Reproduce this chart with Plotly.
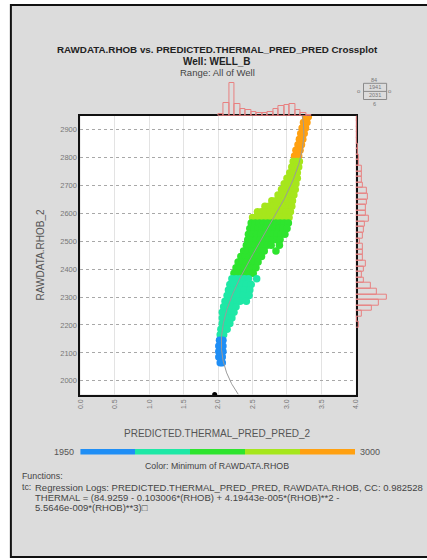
import numpy as np
import plotly.graph_objects as go

W, H = 427, 560

# ---- crossplot samples: RAWDATA.RHOB_2 level -> PREDICTED.THERMAL_PRED_PRED_2 values
rhob_levels = [
    2945, 2925, 2905, 2885, 2865, 2845, 2825, 2805,
    2785, 2765, 2745, 2725, 2705, 2685, 2665, 2645, 2625, 2605, 2585,
    2565, 2545, 2525, 2505, 2485, 2465, 2445, 2425, 2405, 2385,
    2365, 2345, 2325, 2305, 2285, 2265, 2245, 2225, 2205, 2185, 2165,
    2145, 2125, 2105, 2085, 2065,
]
thermal_by_level = [
    [3.27, 3.31], [3.24, 3.29], [3.22, 3.27], [3.20, 3.25],
    [3.18, 3.23], [3.16, 3.21], [3.13, 3.19], [3.11, 3.17],
    [3.09, 3.14, 3.18], [3.07, 3.12, 3.17], [3.04, 3.10, 3.15],
    [3.00, 3.06, 3.11, 3.15], [2.96, 3.02, 3.08, 3.13],
    [2.92, 2.98, 3.04, 3.08, 3.12], [2.87, 2.93, 2.99, 3.05, 3.10],
    [2.78, 2.84, 2.90, 2.96, 3.02, 3.08],
    [2.68, 2.74, 2.80, 2.86, 2.92, 2.98, 3.03, 3.07],
    [2.57, 2.63, 2.69, 2.75, 2.81, 2.87, 2.93, 2.99, 3.05],
    [2.50, 2.56, 2.62, 2.68, 2.74, 2.80, 2.86, 2.92, 2.98, 3.03],
    [2.48, 2.54, 2.60, 2.66, 2.72, 2.78, 2.84, 2.90, 2.96, 3.02],
    [2.46, 2.52, 2.58, 2.64, 2.70, 2.76, 2.82, 2.88, 2.94, 3.00],
    [2.44, 2.50, 2.56, 2.62, 2.68, 2.74, 2.80, 2.86, 2.92, 2.97],
    [2.43, 2.49, 2.55, 2.61, 2.67, 2.73, 2.79, 2.85, 2.90],
    [2.41, 2.47, 2.53, 2.59, 2.65, 2.71, 2.77, 2.89],
    [2.37, 2.43, 2.49, 2.55, 2.61, 2.67, 2.84],
    [2.33, 2.39, 2.45, 2.51, 2.57, 2.63],
    [2.29, 2.35, 2.41, 2.47, 2.53, 2.58],
    [2.26, 2.32, 2.38, 2.44, 2.50, 2.55],
    [2.23, 2.29, 2.35, 2.41, 2.47, 2.51],
    [2.20, 2.26, 2.32, 2.38, 2.44, 2.56],
    [2.17, 2.23, 2.29, 2.35, 2.41, 2.48],
    [2.15, 2.21, 2.27, 2.33, 2.38, 2.46],
    [2.13, 2.19, 2.25, 2.31, 2.36, 2.45],
    [2.10, 2.16, 2.22, 2.28, 2.32, 2.41],
    [2.08, 2.14, 2.20, 2.26],
    [2.06, 2.12, 2.18, 2.23],
    [2.06, 2.12, 2.18, 2.20],
    [2.06, 2.12, 2.17],
    [2.04, 2.09, 2.13],
    [2.03, 2.08],
    [2.02, 2.07], [2.01, 2.07], [2.01, 2.07], [2.01, 2.06], [2.03, 2.06],
]

# ---- colour classes (Minimum of RAWDATA.RHOB)
color_edges = [1950, 2160, 2370, 2580, 2790, 3000]
class_colors = ["#1f8ef5", "#1ee8a6", "#2ee42e", "#a6e61c", "#ffa010"]

# ---- marginal histograms
thermal_bin_starts = [2.00, 2.08, 2.16, 2.24, 2.32, 2.40, 2.48, 2.56, 2.64,
                      2.72, 2.80, 2.88, 2.96, 3.04, 3.12, 3.20, 3.28]
thermal_counts = [2, 13, 33, 12, 7, 6, 4, 3, 3, 4, 7, 10, 11, 12, 6, 3, 1]
thermal_bin_width = 0.08

rhob_bin_starts = [2190, 2210, 2230, 2250, 2270, 2290, 2310, 2330, 2350, 2370,
                   2390, 2410, 2430, 2450, 2470, 2490, 2510, 2530, 2550, 2570,
                   2590, 2610, 2630, 2650, 2670, 2690, 2710, 2730, 2750, 2770,
                   2790, 2810, 2830, 2850, 2870, 2890, 2910, 2930]
rhob_counts = [3, 1, 6, 16, 23, 32, 21, 15, 8, 6,
               8, 10, 7, 7, 7, 4, 7, 8, 9, 13,
               10, 10, 11, 12, 11, 7, 6, 6, 6, 3,
               3, 2, 2, 1, 1, 1, 1, 1]
rhob_bin_width = 20

# ---- regression function: THERMAL = c0 + c1*RHOB + c2*RHOB**2 + c3*RHOB**3
reg_coeffs = [84.9259, -0.103006, 4.19443e-005, -5.5646e-009]

x_ticks = [0.0, 0.5, 1.0, 1.5, 2.0, 2.5, 3.0, 3.5, 4.0]
y_ticks = [2000, 2100, 2200, 2300, 2400, 2500, 2600, 2700, 2800, 2900]
x_range = [0, 4]
y_range = [1951, 2949]

# ---- point arrays
pt_rhob = []
pt_thermal = []
for r, xs in zip(rhob_levels, thermal_by_level):
    for xv in xs:
        pt_rhob.append(r)
        pt_thermal.append(xv)
cls = np.clip(np.digitize(pt_rhob, color_edges) - 1, 0, len(class_colors) - 1)
pt_colors = [class_colors[i] for i in cls]

curve_rhob = np.linspace(y_range[0], y_range[1], 300)
curve_thermal = sum(c * curve_rhob ** k for k, c in enumerate(reg_coeffs))


def fx(px):
    return px / W


def fy(py):
    return 1 - py / H


# plot-area pixel geometry
PL, PR, PT, PB = 77.7, 357.7, 115.7, 394.5
FONT = "Liberation Sans, Arial, sans-serif"

fig = go.Figure()

# crossplot points
fig.add_trace(go.Scatter(
    x=pt_thermal, y=pt_rhob, mode="markers",
    marker=dict(size=7.5, color=pt_colors, line=dict(width=0)),
    xaxis="x", yaxis="y", hoverinfo="skip"))

# regression curve
fig.add_trace(go.Scatter(
    x=curve_thermal, y=curve_rhob, mode="lines",
    line=dict(color="#9a9a9a", width=1),
    xaxis="x", yaxis="y", hoverinfo="skip"))

# marker on the bottom axis
fig.add_trace(go.Scatter(
    x=[1.95], y=[y_range[0]], mode="markers",
    marker=dict(size=5, color="black"), cliponaxis=False,
    xaxis="x", yaxis="y", hoverinfo="skip"))

# top histogram (thermal)
fig.add_trace(go.Bar(
    x=[s + thermal_bin_width / 2 for s in thermal_bin_starts], y=thermal_counts,
    width=thermal_bin_width,
    marker=dict(color="rgba(0,0,0,0)", line=dict(color="#e88080", width=1)),
    xaxis="x2", yaxis="y2", hoverinfo="skip"))

# right histogram (rhob)
fig.add_trace(go.Bar(
    y=[s + rhob_bin_width / 2 for s in rhob_bin_starts], x=rhob_counts,
    width=rhob_bin_width, orientation="h",
    marker=dict(color="rgba(0,0,0,0)", line=dict(color="#e88080", width=1)),
    xaxis="x3", yaxis="y3", hoverinfo="skip"))

# colour bar
fig.add_trace(go.Bar(
    y=[0.5] * len(class_colors),
    x=[color_edges[i + 1] - color_edges[i] for i in range(len(class_colors))],
    base=color_edges[:-1], width=1, orientation="h",
    marker=dict(color=class_colors, line=dict(width=0)),
    xaxis="x4", yaxis="y4", hoverinfo="skip"))

xdom = [fx(PL), fx(PR)]
ydom = [fy(PB), fy(PT)]

fig.update_layout(
    width=W, height=H,
    margin=dict(l=0, r=0, t=0, b=0),
    paper_bgcolor="white",
    plot_bgcolor="rgba(0,0,0,0)",
    showlegend=False,
    barmode="overlay",
    bargap=0,
    font=dict(family=FONT, color="#555"),
    xaxis=dict(
        domain=xdom, range=x_range, tickvals=x_ticks,
        ticktext=[f"{v:.1f}" for v in x_ticks], tickangle=-90,
        tickfont=dict(size=7, color="#777"), ticks="",
        showgrid=True, gridcolor="#e3e3e3", gridwidth=1,
        zeroline=False, showline=True, mirror=True,
        linecolor="#111", linewidth=2, anchor="y"),
    yaxis=dict(
        domain=ydom, range=y_range, tickvals=y_ticks,
        tickfont=dict(size=7.5, color="#777"), ticks="",
        showgrid=True, gridcolor="#a8a8a8", gridwidth=1, griddash="dot",
        zeroline=False, showline=True, mirror=True,
        linecolor="#111", linewidth=2, anchor="x"),
    xaxis2=dict(domain=xdom, range=x_range, visible=False, anchor="y2"),
    yaxis2=dict(domain=[fy(PT), fy(80)], range=[0, PT - 80],
                visible=False, anchor="x2"),
    xaxis3=dict(domain=[fx(PR), fx(400)], range=[0, 400 - PR],
                visible=False, anchor="y3"),
    yaxis3=dict(domain=ydom, range=y_range, visible=False, anchor="x3"),
    xaxis4=dict(domain=xdom, range=[color_edges[0], color_edges[-1]],
                visible=False, anchor="y4"),
    yaxis4=dict(domain=[fy(454.5), fy(449)], range=[0, 1],
                visible=False, anchor="x4"),
)

shapes = [
    # panel background with frame
    dict(type="rect", xref="paper", yref="paper", layer="below",
         x0=fx(7), x1=1.05, y0=fy(557), y1=fy(5),
         fillcolor="#dcdcdc", line=dict(color="#111", width=2)),
    # white plotting area
    dict(type="rect", xref="paper", yref="paper", layer="below",
         x0=xdom[0], x1=xdom[1], y0=ydom[0], y1=ydom[1],
         fillcolor="white", line=dict(width=0)),
    # statistics box
    dict(type="rect", xref="paper", yref="paper",
         x0=fx(365.5), x1=fx(389), y0=fy(99.5), y1=fy(83.3),
         fillcolor="rgba(0,0,0,0)", line=dict(color="#8a8a8a", width=1)),
    dict(type="line", xref="paper", yref="paper",
         x0=fx(365.5), x1=fx(389), y0=fy(91.4), y1=fy(91.4),
         line=dict(color="#8a8a8a", width=1)),
]
fig.update_layout(shapes=shapes)


def note(text, px, py, size, color="#555", xanchor="center", **kw):
    return dict(text=text, x=fx(px), y=fy(py), xref="paper", yref="paper",
                showarrow=False, xanchor=xanchor, yanchor="middle",
                font=dict(family=FONT, size=size, color=color), **kw)


annotations = [
    note("<b>RAWDATA.RHOB vs. PREDICTED.THERMAL_PRED_PRED Crossplot</b>",
         217, 49.5, 9.8, "#222"),
    note("<b>Well: WELL_B</b>", 217, 61, 10, "#222"),
    note("Range: All of Well", 217, 72.5, 9.5, "#444"),
    note("PREDICTED.THERMAL_PRED_PRED_2", 217, 433, 10, "#555"),
    note("RAWDATA.RHOB_2", 38, 255, 10, "#555", textangle=-90),
    note("1950", 73, 452, 9, "#555", xanchor="right"),
    note("3000", 360, 452, 9, "#555", xanchor="left"),
    note("Color: Minimum of RAWDATA.RHOB", 217, 466, 8.8, "#444"),
    note("Functions:", 16, 476, 8.8, "#444", xanchor="left"),
    note("tc:", 16, 487, 8.8, "#444", xanchor="left"),
    note("Regression Logs: PREDICTED.THERMAL_PRED_PRED, RAWDATA.RHOB, CC: 0.982528",
         29, 487, 9.5, "#444", xanchor="left"),
    note("THERMAL = (84.9259 - 0.103006*(RHOB) + 4.19443e-005*(RHOB)**2 -",
         29, 497, 9.5, "#444", xanchor="left"),
    note("5.5646e-009*(RHOB)**3)\u25a1", 29, 507, 9.5, "#444", xanchor="left"),
    # point-count statistics around the box
    note("84", 376.5, 79.5, 5.5, "#777"),
    note("1941", 377.3, 87.4, 5.5, "#777"),
    note("2031", 377.3, 95.4, 5.5, "#777"),
    note("6", 376.5, 103.5, 5.5, "#777"),
    note("o", 361, 91.4, 6, "#777"),
    note("o", 392.5, 91.4, 6, "#777"),
]
fig.update_layout(annotations=annotations)

fig.write_html("out.html")
